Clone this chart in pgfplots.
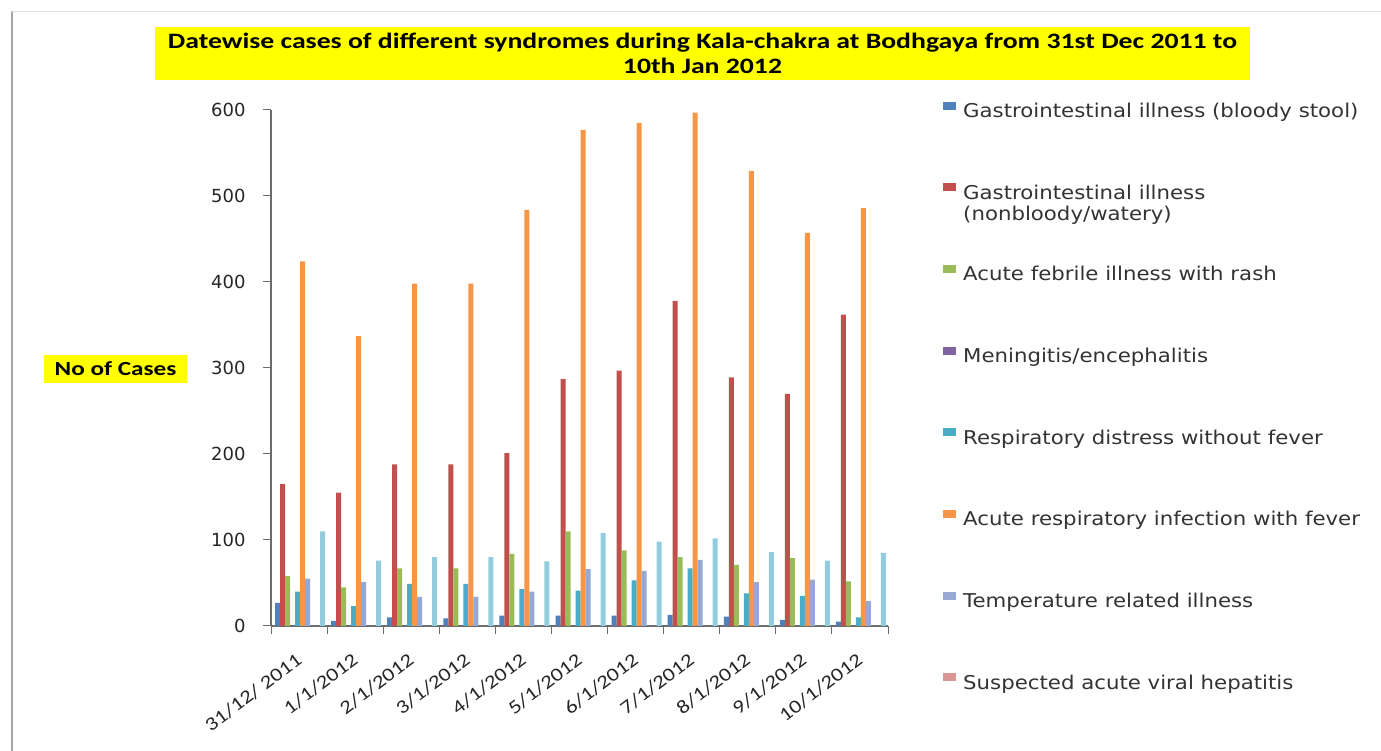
\documentclass[border=0pt]{standalone}
\usepackage{pgfplots}
\pgfplotsset{compat=1.18}
\usepackage{pgfplotstable}
\usepackage{fontspec}
\setmainfont{Carlito}
\newfontfamily\calst{Carlito}[FakeStretch=1.2]
\newfontfamily\calstb{Carlito}[FakeStretch=1.26]
\newfontfamily\dv{DejaVu Sans}
\newfontfamily\dvst{DejaVu Sans}[FakeStretch=1.12]
\definecolor{c1}{HTML}{4F81BD}
\definecolor{c2}{HTML}{C0504D}
\definecolor{c3}{HTML}{9BBB59}
\definecolor{c4}{HTML}{8064A2}
\definecolor{c5}{HTML}{4BACC6}
\definecolor{c6}{HTML}{F79646}
\definecolor{c7}{HTML}{95A9D3}
\definecolor{c8}{HTML}{D99694}
\definecolor{c9}{HTML}{93CDDD}
\definecolor{ttl}{HTML}{FFFF00}
% x  bloody nonbloody rash mening resp ari temp hep extra
\pgfplotstableread{
x s1 s2 s3 s4 s5 s6 s7 s8 s9
0 27 165 58 0 40 424 55 0 110
1 6 155 45 0 23 337 51 0 76
2 10 188 67 0 49 398 34 0 80
3 9 188 67 0 49 398 34 0 80
4 12 201 84 0 43 484 40 0 75
5 12 287 110 0 41 577 66 0 108
6 12 297 88 0 53 585 64 0 98
7 13 378 80 0 67 597 77 0 102
8 11 289 71 0 38 529 51 0 86
9 7 270 79 0 35 457 54 0 76
10 5 362 52 0 10 486 29 0 85
}\datatable
\newcommand{\lgent}[1]{\raisebox{0pt}[15pt][5pt]{#1}}
\begin{document}
\begin{tikzpicture}[x=1pt,y=1pt]
\path[use as bounding box] (0,0) rectangle (1381,751);
\fill[white] (0,0) rectangle (1381,751);
\draw[gray!70, line width=2pt] (12,0) -- (12,740);
\draw[gray!25, line width=0.8pt] (12,740) -- (1381,740);
\node[fill=ttl, minimum width=1095pt, minimum height=53pt, inner sep=0pt, align=center,
      font=\calstb\bfseries\fontsize{22}{25}\selectfont] at (702.5,697.5)
  {Datewise cases of different syndromes during Kala-chakra at Bodhgaya from 31st Dec 2011 to\\10th Jan 2012};
\node[fill=ttl, minimum width=143pt, minimum height=28pt, inner sep=0pt,
      font=\calstb\bfseries\fontsize{20}{22}\selectfont] at (115.5,382) {No of Cases};
\begin{axis}[
  at={(271pt,125pt)}, anchor=south west, scale only axis,
  width=617pt, height=516pt,
  xmin=-0.5, xmax=10.5, ymin=0, ymax=600,
  axis lines*=left,
  axis line style={draw=gray!85!black, line width=1.2pt},
  ytick={0,100,...,600},
  xtick={0,...,10},
  xticklabels={31/12/ 2011,1/1/2012,2/1/2012,3/1/2012,4/1/2012,5/1/2012,6/1/2012,7/1/2012,8/1/2012,9/1/2012,10/1/2012},
  major x tick style={draw=none},
  minor xtick={-0.5,0.5,...,10.5},
  minor x tick style={draw=gray!85!black, line width=1pt},
  major y tick style={draw=gray!85!black, line width=1pt},
  tick align=outside, major tick length=8pt, minor tick length=8pt,
  /pgf/number format/assume math mode=true,
  yticklabel style={font=\dv\fontsize{18}{20}\selectfont, text=black!85, xshift=-14pt},
  xticklabel style={font=\calst\fontsize{19}{22}\selectfont, text=black!85, rotate=37, anchor=north east, inner sep=0pt, xshift=-14pt, yshift=-12pt},
  ybar, bar width=5pt,
  legend style={at={(axis description cs:1,1)}, anchor=north west, xshift=55pt, yshift=8.5pt,
    draw=none, fill=none, inner sep=0pt, nodes={inner sep=0pt},
    font=\dvst\fontsize{19}{22}\selectfont, text=black!80, row sep=64.4pt,
    /tikz/every odd column/.append style={column sep=7pt}},
  legend cell align=left,
  legend image code/.code={\fill[#1] (0pt,1pt) rectangle (13pt,9pt);},
]
\addplot[fill=c1, draw=none, bar shift=-21.5pt] table[x=x,y=s1]{\datatable};
\addplot[fill=c2, draw=none, bar shift=-16.5pt] table[x=x,y=s2]{\datatable};
\addplot[fill=c3, draw=none, bar shift=-11.5pt] table[x=x,y=s3]{\datatable};
\addplot[fill=c4, draw=none, bar shift=-6.5pt] table[x=x,y=s4]{\datatable};
\addplot[fill=c5, draw=none, bar shift=-1.5pt] table[x=x,y=s5]{\datatable};
\addplot[fill=c6, draw=none, bar shift=3.5pt] table[x=x,y=s6]{\datatable};
\addplot[fill=c7, draw=none, bar shift=8.5pt] table[x=x,y=s7]{\datatable};
\addplot[fill=c8, draw=none, bar shift=13.5pt] table[x=x,y=s8]{\datatable};
\addplot[fill=c9, draw=none, bar shift=23.5pt, forget plot] table[x=x,y=s9]{\datatable};
\legend{\lgent{Gastrointestinal illness (bloody stool)},
  \lgent{\begin{tabular}[t]{@{}l@{}}Gastrointestinal illness\\[-1pt](nonbloody/watery)\end{tabular}},
  \lgent{Acute febrile illness with rash},
  \lgent{Meningitis/encephalitis},
  \lgent{Respiratory distress without fever},
  \lgent{Acute respiratory infection with fever},
  \lgent{Temperature related illness},
  \lgent{Suspected acute viral hepatitis}}
\end{axis}
\end{tikzpicture}
\end{document}
